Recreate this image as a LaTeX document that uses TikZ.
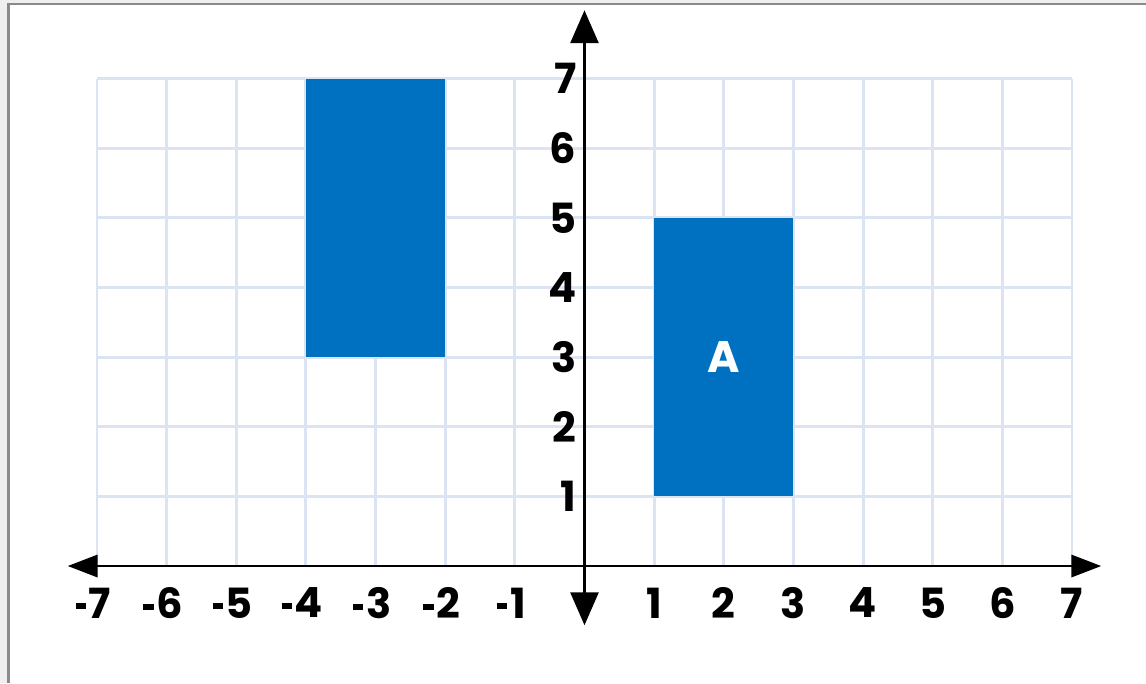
\documentclass[tikz,border=0pt]{standalone}
\usepackage{fontspec}
\setmainfont{Poppins}[BoldFont={* Bold}]
\usetikzlibrary{arrows.meta}
\definecolor{gridblue}{HTML}{DCE3F3}
\definecolor{fillblue}{HTML}{0070C0}
\definecolor{framegray}{HTML}{8A8A8A}
\definecolor{outgray}{HTML}{EFEFEF}
\newcommand{\negsign}{\rule[3.6pt]{4.2pt}{2.4pt}\hspace{1.2pt}}
\tikzset{
  gridline/.style={draw=gridblue, line width=1.2pt},
  axisline/.style={draw=black, line width=1.1pt},
  bluebox/.style={fill=fillblue},
  ticklab/.style={font=\fontsize{17}{20}\selectfont\bfseries, inner sep=0pt},
}
\begin{document}
\begin{tikzpicture}
% canvas and frame
\useasboundingbox (-8.393,-1.680) rectangle (8.063,8.128);
\fill[outgray] (-8.393,-1.680) rectangle (8.063,8.128);
\fill[white] (-8.268,-1.680) rectangle (8.063,8.070);
\draw[framegray, line width=1.1pt] (-8.268,-1.680) -- (-8.268,8.070) -- (8.063,8.070);
% grid
\foreach \x in {-7,...,-1,1,2,...,7} \draw[gridline] (\x,0) -- (\x,7);
\foreach \y in {1,...,7} \draw[gridline] (-7,\y) -- (7,\y);
% shapes
\fill[bluebox] (-4,3) rectangle (-2,7);
\fill[bluebox] (1,1) rectangle (3,5);
\node[ticklab, font=\fontsize{18}{20}\selectfont\bfseries, text=white] (A) at (2,3) {A};
% axes
\draw[axisline, {Triangle[length=0.43cm,width=0.32cm]}-{Triangle[length=0.43cm,width=0.32cm]}] (-7.42,0) -- (7.42,0);
\draw[axisline, {Triangle[length=0.47cm,width=0.40cm]}-{Triangle[length=0.47cm,width=0.40cm]}] (0,-0.85) -- (0,7.98);
% labels
\foreach \x in {-7,...,-1} \node[ticklab] (xl\x) at (\x-0.05,-0.53) {\negsign\the\numexpr-\x\relax};
\foreach \x in {1,...,7} \node[ticklab] (xl\x) at (\x,-0.53) {\x};
\foreach \y in {1,...,7} \node[ticklab, anchor=east] (yl\y) at (-0.11,\y) {\y};
\end{tikzpicture}
\end{document}
